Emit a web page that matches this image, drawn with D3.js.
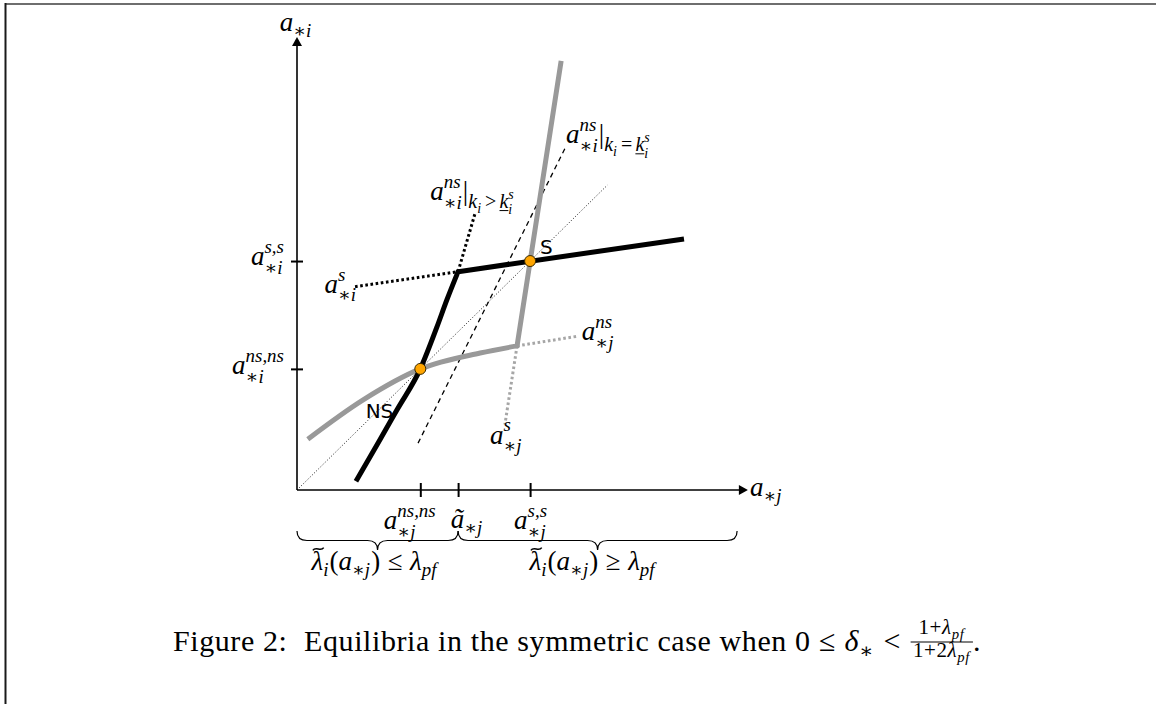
<!DOCTYPE html>
<html>
<head>
<meta charset="utf-8">
<script src="https://cdn.jsdelivr.net/npm/d3@7"></script>
<style>
  html, body { margin: 0; padding: 0; background: #fff; }
  svg { display: block; }
  text { font-family: "Liberation Serif", "DejaVu Serif", serif; fill: #000; }
  text.sans { font-family: "DejaVu Sans", "Liberation Sans", sans-serif; }
  g.caption text { letter-spacing: 0.6px; }
</style>
</head>
<body>
<svg id="fig" width="1156" height="704"></svg>
<script>
// ---- values (data units) ----
const xTickValues = [2.74, 3.58, 5.18];          // a*j^{ns,ns}, ã*j, a*j^{s,s}
const yTickValues = [5.18, 2.74];                // a*i^{s,s}, a*i^{ns,ns}
const braceBounds = [[0, 3.58], [3.58, 9.78]];

// best response of i (black): curved branch, then straight branch past the kink
const brICurve = [[1.31, 0.20], [1.84, 1.13], [2.22, 1.81], [2.74, 2.74], [3.11, 3.69], [3.33, 4.30], [3.58, 4.94]];
const brILine = [[3.58, 4.94], [8.6, 5.68]];
const brIDotLeft = [[1.29, 4.60], [3.58, 4.94]];
const brIDotUp = [[3.58, 4.94], [3.96, 6.27]];

// best response of j (grey)
const brJCurve = [[0.24, 1.15], [1.47, 2.04], [2.74, 2.74], [4.07, 3.10], [4.89, 3.26]];
const brJLine = [[4.89, 3.26], [5.87, 9.71]];
const brJDotRight = [[4.89, 3.26], [6.24, 3.48]];
const brJDotDown = [[4.89, 3.26], [4.62, 1.48]];

const dashedLine = [[2.69, 1.06], [5.98, 7.78]];
const diagonal = [[0, 0], [6.9, 6.9]];
const equilibria = [{ name: "NS", v: 2.74 }, { name: "S", v: 5.18 }];

// ---- scales ----
const x = d3.scaleLinear().domain([0, 10]).range([297, 747]);
const y = d3.scaleLinear().domain([0, 10]).range([490, 48]);

const svg = d3.select("#fig");
const FS = 27;

// small math typesetter: text runs, stacked scripts, underline, tilde accent, fraction
function lay(g, nodes, x0, y0, size) {
  let cx = x0;
  nodes.forEach(n => {
    if (n.gap !== undefined) { cx += n.gap * size; return; }
    if (n.t !== undefined) {
      const el = g.append("text").attr("x", cx).attr("y", y0)
        .style("font-size", size + "px")
        .style("font-style", n.i ? "italic" : "normal")
        .text(n.t);
      cx += el.node().getComputedTextLength();
      return;
    }
    if (n.sup || n.sub) {
      const s = size * (n.scale || 0.7);
      const both = n.sup && n.sub;
      let w = 0;
      if (n.sup) w = Math.max(w, lay(g, n.sup, cx, y0 - size * 0.45, s));
      if (n.sub) w = Math.max(w, lay(g, n.sub, cx, y0 + size * (both ? 0.32 : (n.low || 0.24)), s));
      cx += w + size * 0.04;
      return;
    }
    if (n.ul) {
      const w = lay(g, n.ul, cx, y0, size);
      g.append("line").attr("x1", cx).attr("x2", cx + w)
        .attr("y1", y0 + size * 0.13).attr("y2", y0 + size * 0.13)
        .attr("stroke", "#000").attr("stroke-width", Math.max(0.8, size * 0.05));
      cx += w;
      return;
    }
    if (n.tilde) {
      const w = lay(g, n.tilde, cx, y0, size);
      const tx = cx + w * 0.58, ty = y0 - size * 0.78, a = size * 0.2;
      g.append("path")
        .attr("d", `M${tx - a},${ty + a * 0.25} C${tx - a * 0.5},${ty - a * 0.55} ${tx + a * 0.5},${ty + a * 0.55} ${tx + a},${ty - a * 0.25}`)
        .attr("fill", "none").attr("stroke", "#000").attr("stroke-width", size * 0.055);
      cx += w;
      return;
    }
    if (n.frac) {
      const s = size * 0.7;
      const gn = g.append("g"), gd = g.append("g");
      const wn = lay(gn, n.frac[0], 0, 0, s);
      const wd = lay(gd, n.frac[1], 0, 0, s);
      const w = Math.max(wn, wd) + size * 0.15;
      const axisY = y0 - size * 0.3;
      gn.attr("transform", `translate(${cx + (w - wn) / 2},${y0 - size * 0.57})`);
      gd.attr("transform", `translate(${cx + (w - wd) / 2},${y0 + size * 0.21})`);
      g.append("line").attr("x1", cx).attr("x2", cx + w).attr("y1", axisY).attr("y2", axisY)
        .attr("stroke", "#000").attr("stroke-width", 1);
      cx += w;
      return;
    }
  });
  return cx - x0;
}
function mathLabel(nodes, px, py, anchor, size, cls) {
  const g = svg.append("g").attr("class", cls || null);
  const w = lay(g, nodes, 0, 0, size || FS);
  const dx = anchor === "end" ? -w : anchor === "middle" ? -w / 2 : 0;
  g.attr("transform", `translate(${px + dx},${py})`);
  return g;
}
const I = t => ({ t, i: true });
const R = t => ({ t });
const ast = R("\u2217");

// ---- frame ----
svg.append("line").attr("x1", 5).attr("x2", 1156).attr("y1", 4).attr("y2", 4)
  .attr("stroke", "#6e6e6e").attr("stroke-width", 2);
svg.append("line").attr("x1", 5.5).attr("x2", 5.5).attr("y1", 3).attr("y2", 704)
  .attr("stroke", "#1a1a1a").attr("stroke-width", 2);

// ---- axes ----
const X0 = x(0), Y0 = y(0), XE = x(10.02), YE = y(10.25);
svg.append("line").attr("x1", X0).attr("y1", Y0).attr("x2", XE - 7).attr("y2", Y0)
  .attr("stroke", "#000").attr("stroke-width", 1.6);
svg.append("line").attr("x1", X0).attr("y1", Y0).attr("x2", X0).attr("y2", YE + 7)
  .attr("stroke", "#000").attr("stroke-width", 1.6);
svg.append("path").attr("d", `M${XE},${Y0} L${XE - 9},${Y0 - 5} L${XE - 9},${Y0 + 5} Z`).attr("fill", "#000");
svg.append("path").attr("d", `M${X0},${YE} L${X0 - 5},${YE + 9} L${X0 + 5},${YE + 9} Z`).attr("fill", "#000");

const xAxis = svg.append("g").attr("transform", `translate(0,${Y0 - 7})`)
  .call(d3.axisBottom(x).tickValues(xTickValues).tickSize(14).tickFormat(""));
const yAxis = svg.append("g").attr("transform", `translate(${X0 + 6},0)`)
  .call(d3.axisLeft(y).tickValues(yTickValues).tickSize(12).tickFormat(""));
[xAxis, yAxis].forEach(a => {
  a.select(".domain").remove();
  a.selectAll(".tick line").attr("stroke", "#000").attr("stroke-width", 2);
});

// axis titles
mathLabel([I("a"), { sub: [ast, I("i")] }], X0 - 1, 31, "middle");
mathLabel([I("a"), { sub: [ast, I("j")] }], XE + 2, 496, "start");

// tick labels
mathLabel([I("a"), { sup: [I("s,s")], sub: [ast, I("i")] }], X0 - 12, y(yTickValues[0]) + 4, "end");
mathLabel([I("a"), { sup: [I("ns,ns")], sub: [ast, I("i")] }], X0 - 12, y(yTickValues[1]) + 5, "end");
mathLabel([I("a"), { sup: [I("ns,ns")], sub: [ast, I("j")] }], x(xTickValues[0]) - 10, 529, "middle");
mathLabel([I("\u00e3"), { sub: [ast, I("j")] }], x(xTickValues[1]) + 9, 528, "middle");
mathLabel([I("a"), { sup: [I("s,s")], sub: [ast, I("j")] }], x(xTickValues[2]) + 1, 529, "middle");

// ---- lines ----
const line = d3.line().x(d => x(d[0])).y(d => y(d[1]));
const curve = d3.line().x(d => x(d[0])).y(d => y(d[1])).curve(d3.curveMonotoneX);

svg.append("path").attr("d", line(diagonal)).attr("fill", "none")
  .attr("stroke", "#000").attr("stroke-width", 0.9).attr("stroke-dasharray", "1,2");
svg.append("path").attr("d", line(dashedLine)).attr("fill", "none")
  .attr("stroke", "#000").attr("stroke-width", 1.3).attr("stroke-dasharray", "5,4");

// dotted continuations
svg.append("path").attr("d", line(brJDotRight)).attr("fill", "none")
  .attr("stroke", "#a6a6a6").attr("stroke-width", 3).attr("stroke-dasharray", "2.6,2.6");
svg.append("path").attr("d", line(brJDotDown)).attr("fill", "none")
  .attr("stroke", "#a6a6a6").attr("stroke-width", 3).attr("stroke-dasharray", "2.6,2.6");
svg.append("path").attr("d", line(brIDotLeft)).attr("fill", "none")
  .attr("stroke", "#000").attr("stroke-width", 3).attr("stroke-dasharray", "2.6,2.6");
svg.append("path").attr("d", line(brIDotUp)).attr("fill", "none")
  .attr("stroke", "#000").attr("stroke-width", 3).attr("stroke-dasharray", "2.6,2.6");

// grey best response
svg.append("path").attr("d", curve(brJCurve) + "L" + x(brJLine[1][0]) + "," + y(brJLine[1][1]))
  .attr("fill", "none").attr("stroke", "#999").attr("stroke-width", 5).attr("stroke-linejoin", "miter");
// black best response
svg.append("path").attr("d", curve(brICurve) + "L" + x(brILine[1][0]) + "," + y(brILine[1][1]))
  .attr("fill", "none").attr("stroke", "#000").attr("stroke-width", 5).attr("stroke-linejoin", "miter");

// equilibria
svg.selectAll("circle.eq").data(equilibria).join("circle").attr("class", "eq")
  .attr("cx", d => x(d.v)).attr("cy", d => y(d.v)).attr("r", 5.5)
  .attr("fill", "#FFA500").attr("stroke", "#3a2a00").attr("stroke-width", 1);
svg.append("text").attr("class", "sans").attr("x", x(5.18) + 10).attr("y", y(5.18) - 7)
  .style("font-size", "20px").text("S");
svg.append("text").attr("class", "sans").attr("x", x(2.74) - 27).attr("y", y(2.74) + 49)
  .attr("text-anchor", "end").style("font-size", "20px").text("NS");

// curve labels
const relGap = { gap: 0.16 };
mathLabel([I("a"), { sup: [I("s")], sub: [ast, I("i")] }], x(brIDotLeft[0][0]) + 2, y(brIDotLeft[0][1]) + 6, "end");
mathLabel([I("a"), { sup: [I("ns")], sub: [ast, I("i")] }, R("|"),
  { low: 0.3, scale: 0.74, sub: [I("k"), { sub: [I("i")] }, relGap, R(">"), relGap, { ul: [I("k")] }, { sup: [I("s")], sub: [I("i")] }] }],
  x(brIDotUp[1][0]) - 45, y(brIDotUp[1][1]) - 13, "start");
mathLabel([I("a"), { sup: [I("ns")], sub: [ast, I("i")] }, R("|"),
  { low: 0.3, scale: 0.74, sub: [I("k"), { sub: [I("i")] }, relGap, R("="), relGap, { ul: [I("k")] }, { sup: [I("s")], sub: [I("i")] }] }],
  x(dashedLine[1][0]), y(dashedLine[1][1]) - 3, "start");
mathLabel([I("a"), { sup: [I("ns")], sub: [ast, I("j")] }], x(brJDotRight[1][0]) + 4, y(brJDotRight[1][1]) + 4, "start");
mathLabel([I("a"), { sup: [I("s")], sub: [ast, I("j")] }], x(brJDotDown[1][0]) - 15, y(brJDotDown[1][1]) + 19, "start");

// ---- braces ----
function brace(x1, x2, y0, h) {
  const xm = (x1 + x2) / 2, q = h / 2, r = 10;
  return `M${x1},${y0} Q${x1},${y0 + q} ${x1 + r},${y0 + q} L${xm - r},${y0 + q} Q${xm},${y0 + q} ${xm},${y0 + h}` +
    ` Q${xm},${y0 + q} ${xm + r},${y0 + q} L${x2 - r},${y0 + q} Q${x2},${y0 + q} ${x2},${y0}`;
}
braceBounds.forEach(b => {
  svg.append("path").attr("d", brace(x(b[0]), x(b[1]), 531, 19))
    .attr("fill", "none").attr("stroke", "#000").attr("stroke-width", 1.2);
});
const lamTilde = { tilde: [I("\u03bb")] };
mathLabel([lamTilde, { sub: [I("i")] }, R("("), I("a"), { sub: [ast, I("j")] }, R(")"), { gap: 0.28 }, R("\u2264"), { gap: 0.28 }, I("\u03bb"), { sub: [I("pf")] }],
  (x(braceBounds[0][0]) + x(braceBounds[0][1])) / 2 - 3, 570, "middle");
mathLabel([lamTilde, { sub: [I("i")] }, R("("), I("a"), { sub: [ast, I("j")] }, R(")"), { gap: 0.28 }, R("\u2265"), { gap: 0.28 }, I("\u03bb"), { sub: [I("pf")] }],
  (x(braceBounds[1][0]) + x(braceBounds[1][1])) / 2 - 5, 570, "middle");

// ---- caption ----
mathLabel([R("Figure 2:"), { gap: 0.55 }, R("Equilibria in the symmetric case when 0"), { gap: 0.28 }, R("\u2264"), { gap: 0.28 },
  I("\u03b4"), { sub: [ast] }, { gap: 0.28 }, R("<"), { gap: 0.32 },
  { frac: [[R("1+"), I("\u03bb"), { sub: [I("pf")] }], [R("1+2"), I("\u03bb"), { sub: [I("pf")] }]] }, R(".")],
  577, 651, "middle", 30, "caption");
</script>
</body>
</html>
